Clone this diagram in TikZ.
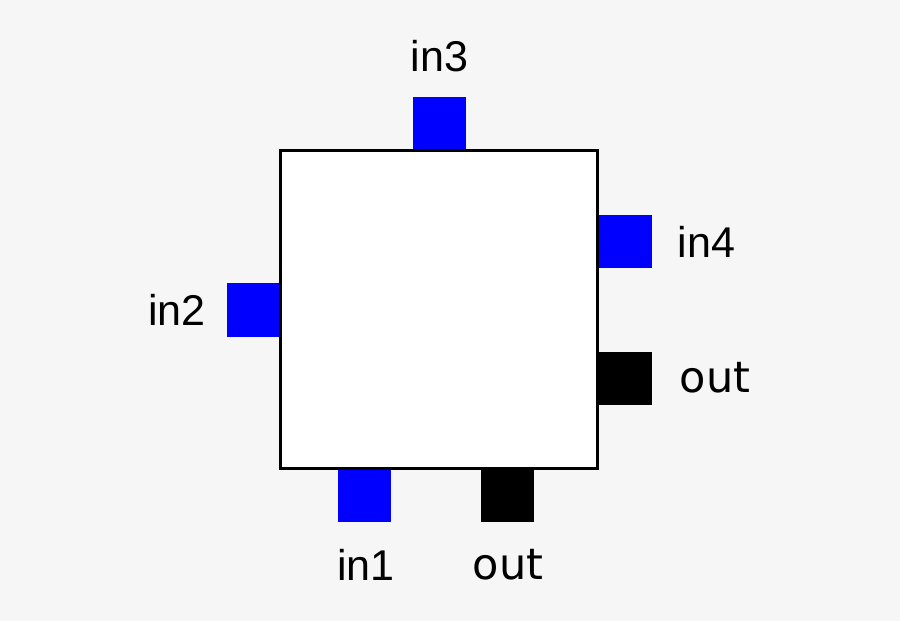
\documentclass[tikz,border=0pt]{standalone}
\usepackage{fontspec}
\setmainfont{Liberation Sans}
\newfontfamily\outfont{DejaVu Sans}
\usetikzlibrary{positioning}
\definecolor{bggray}{HTML}{F6F6F6}
\definecolor{portblue}{HTML}{0000FF}

\tikzset{
    inport/.style={fill=portblue, minimum size=1.07cm, inner sep=0pt},
    outport/.style={fill=black, minimum size=1.07cm, inner sep=0pt},
    lbl/.style={anchor=base, inner sep=0pt, font=\fontsize{24.5}{29}\selectfont},
}

\begin{document}
\begin{tikzpicture}[x=0.02cm, y=-0.02cm]
\fill [bggray] (0,0) rectangle (900,621);
\useasboundingbox (0,0) rectangle (900,621);
% ports
\node[inport] (in3) at (439.5,124) {};
\node[inport] (in4) at (625,241.5) {};
\node[inport] (in2) at (253.5,310) {};
\node[outport] (outr) at (625,378.5) {};
\node[inport] (in1) at (364.5,495) {};
\node[outport] (outb) at (507.5,495) {};
% block
\node[draw, fill=white, line width=0.06cm, minimum size=6.36cm, inner sep=0pt] (block) at (439,309.5) {};
% labels
\node[lbl] (in3lbl) at (439.5,72) {in3};
\node[lbl] (in4lbl) at (706.5,258) {in4};
\node[lbl] (in2lbl) at (177,326) {in2};
\node[lbl] (outrlbl) at (715,393) {\outfont out};
\node[lbl] (in1lbl) at (366,581) {in1};
\node[lbl] (outblbl) at (508,580) {\outfont out};
\end{tikzpicture}
\end{document}
